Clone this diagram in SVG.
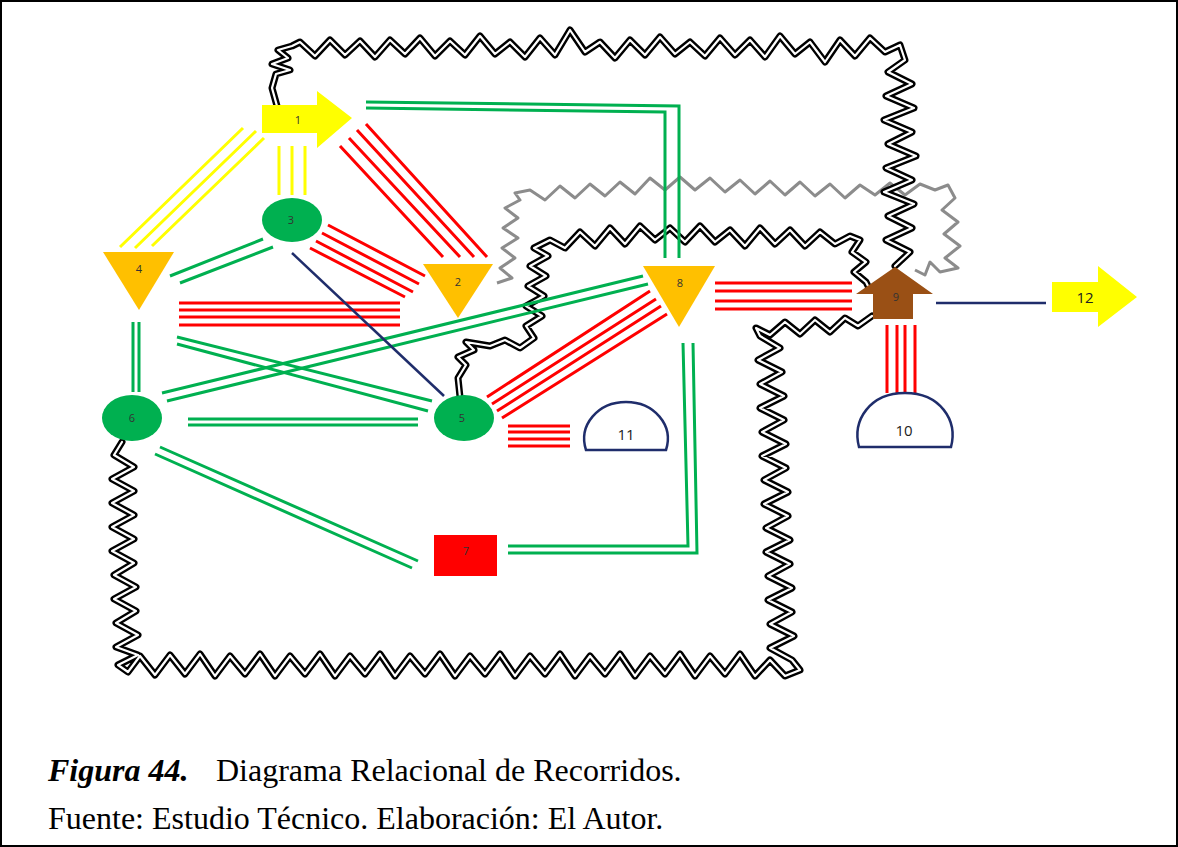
<svg xmlns="http://www.w3.org/2000/svg" width="1178" height="847" viewBox="0 0 1178 847">
<defs>
<style>
.y{stroke:#ffff00;stroke-width:3;fill:none}
.r{stroke:#ff0000;stroke-width:3;fill:none}
.g{stroke:#00b050;stroke-width:3;fill:none}
.n{stroke:#1f2d6b;stroke-width:2.5;fill:none}
.wk{stroke:#000;stroke-width:7;fill:none;stroke-linejoin:round;stroke-linecap:round}
.wi{stroke:#fff;stroke-width:2.2;fill:none;stroke-linejoin:round;stroke-linecap:round}
.gr{stroke:#8c8c8c;stroke-width:3;fill:none;stroke-linejoin:round}
.tri{fill:#ffc000}
.cir{fill:#00b050}
.lbl{font-family:"Open Sans","Liberation Sans",sans-serif;font-size:11px;fill:#333;text-anchor:middle}
.lbl2{font-family:"Open Sans","Liberation Sans",sans-serif;font-size:15px;fill:#222;text-anchor:middle}
.cap{font-family:"Liberation Serif","Times New Roman",serif;font-size:32px;fill:#000}
</style>
<path id="wTop" d="M277 106 L272 88 L276 74 L290 70 L272 64 L288 58 L278 50 L292 46 L300 42 L315 56 L330 40 L345 55 L360 41 L375 57 L390 40 L405 54 L420 38 L435 56 L450 41 L465 55 L480 36 L495 54 L510 42 L525 57 L540 38 L555 55 L570 30 L585 52 L600 42 L615 58 L630 40 L645 55 L660 37 L675 54 L690 42 L705 56 L720 38 L735 55 L750 40 L765 57 L780 36 L795 54 L810 42 L825 62 L840 40 L855 56 L870 38 L885 52 L900 45 L905 60 L888 72 L912 84 L886 96 L914 108 L884 120 L912 132 L888 144 L916 156 L886 168 L912 180 L884 192 L914 204 L888 216 L912 228 L886 240 L910 252 L895 266"/>
<path id="wMid" d="M460 397 L458 378 L466 365 L458 357 L474 350 L466 342 L490 346 L505 340 L520 348 L534 338 L526 326 L542 316 L526 306 L544 296 L528 286 L546 276 L530 266 L548 256 L534 248 L550 240 L565 248 L580 232 L595 246 L610 228 L625 244 L640 226 L655 240 L670 228 L685 242 L700 226 L715 242 L730 230 L745 246 L760 228 L775 244 L790 230 L805 246 L820 232 L835 244 L850 236 L860 240 L852 252 L866 262 L854 272 L866 282 L870 290"/>
<path id="wBot" d="M122 442 L114 455 L134 467 L112 479 L134 491 L112 503 L134 515 L112 527 L134 539 L112 551 L134 563 L114 575 L136 587 L114 599 L136 611 L116 623 L138 635 L116 647 L138 655 L118 665 L128 672 L140 656 L155 675 L170 655 L185 674 L200 654 L215 676 L230 656 L245 674 L260 654 L275 676 L290 656 L305 674 L320 654 L335 676 L350 656 L365 674 L380 654 L395 676 L410 656 L425 674 L440 654 L455 676 L470 656 L485 674 L500 654 L515 676 L530 656 L545 674 L560 654 L575 676 L590 656 L605 674 L620 654 L635 676 L650 656 L665 674 L680 654 L695 676 L710 656 L725 674 L740 654 L755 676 L770 660 L785 676 L800 670 L792 660 L770 648 L794 636 L770 624 L792 612 L768 600 L792 588 L768 576 L790 564 L766 552 L790 540 L766 528 L788 516 L764 504 L788 492 L764 480 L786 468 L762 456 L786 444 L762 432 L784 420 L760 408 L784 396 L760 384 L782 372 L758 360 L780 348 L760 336 L756 328 L770 335 L785 322 L800 334 L815 320 L830 332 L845 318 L858 326 L872 316"/>
</defs>
<rect x="1" y="1" width="1176" height="845" fill="#fff" stroke="#000" stroke-width="2"/>
<g id="connectors">
<path class="gr" d="M497 283 L512 278 L500 268 L515 258 L502 248 L518 238 L503 228 L518 218 L505 208 L520 200 L515 193 L530 190 L545 200 L560 186 L575 198 L590 184 L605 196 L620 182 L635 194 L650 178 L665 190 L680 177 L695 190 L710 178 L725 192 L740 180 L755 194 L770 181 L785 195 L800 182 L815 196 L830 184 L845 198 L860 185 L875 195 L890 183 L905 195 L920 184 L935 190 L948 185 L955 198 L942 210 L958 222 L944 234 L960 246 L945 258 L958 268 L940 272 L930 262 L925 275 L915 270"/>
<use href="#wTop" class="wk"/><use href="#wTop" class="wi"/>
<use href="#wMid" class="wk"/><use href="#wMid" class="wi"/>
<use href="#wBot" class="wk"/><use href="#wBot" class="wi"/>
<path class="y" d="M243 128 L120 247 M256 131 L135 248 M264 138 L152 246"/>
<path class="y" d="M279 146 V195 M292 146 V195 M305 146 V195"/>
<path class="r" d="M340 146 L443 257 M349 138 L460 257 M357 130 L474 257 M366 124 L487 257"/>
<path class="r" d="M328 225 L425 276 M322 233 L419 284 M316 241 L413 292 M310 248 L405 297"/>
<path class="r" d="M179 303 H400 M179 310 H400 M179 317 H400 M179 325 H400"/>
<path class="r" d="M487 397 L650 291 M492 404 L656 299 M497 411 L661 306 M502 418 L667 314"/>
<path class="r" d="M508 426 H570 M508 432 H570 M508 439 H570 M508 446 H570"/>
<path class="r" d="M715 283 H852 M715 291 H852 M715 301 H852 M715 309 H852"/>
<path class="r" d="M887 325 V393 M897 325 V393 M905 325 V393 M915 325 V393"/>
<path class="g" d="M366 102 L679 106 L679 258 M366 108 L665 112 L665 258"/>
<path class="g" d="M263 239 L170 276 M273 247 L180 283"/>
<path class="g" d="M133 322 V392 M139 322 V392"/>
<path class="g" d="M177 337 L432 401 M177 344 L428 411"/>
<path class="g" d="M162 393 L643 276 M167 401 L648 284"/>
<path class="g" d="M188 419 H418 M188 425 H418"/>
<path class="g" d="M160 447 L418 561 M155 454 L412 568"/>
<path class="g" d="M683 343 L688 546 L508 546 M693 343 L697 553 L508 553"/>
<path class="n" d="M292 253 L444 396"/>
<path class="n" d="M936 303 H1046"/>
</g>
<g id="node1"><polygon points="262,105 317,105 317,91 352,118 317,148 317,133 262,133" fill="#ffff00"/><text class="lbl" x="298" y="124">1</text></g>
<g id="node2"><polygon class="tri" points="423,264 493,264 458,318"/><text class="lbl" x="458" y="286">2</text></g>
<g id="node3"><ellipse class="cir" cx="292" cy="220" rx="30" ry="22"/><text class="lbl" x="291" y="224">3</text></g>
<g id="node4"><polygon class="tri" points="103,252 174,252 139,310"/><text class="lbl" x="139" y="273">4</text></g>
<g id="node5"><ellipse class="cir" cx="464" cy="418" rx="30" ry="23"/><text class="lbl" x="462" y="422">5</text></g>
<g id="node6"><ellipse class="cir" cx="132" cy="418" rx="30" ry="23"/><text class="lbl" x="132" y="422">6</text></g>
<g id="node7"><rect x="434" y="535" width="63" height="41" fill="#ff0000"/><text class="lbl" x="466" y="555">7</text></g>
<g id="node8"><polygon class="tri" points="643,266 715,266 679,327"/><text class="lbl" x="680" y="287">8</text></g>
<g id="node9"><polygon points="856,294 895,267 933,294 913,294 913,319 873,319 873,294" fill="#9a5015"/><text class="lbl" x="896" y="301">9</text></g>
<g id="node10"><path d="M859 447 C852 420 870 393 905 393 C940 393 958 420 951 447 Z" fill="#fff" stroke="#1f2d6b" stroke-width="2.5"/><text class="lbl2" x="904" y="436">10</text></g>
<g id="node11"><path d="M586 450 C578 425 598 402 626 402 C654 402 674 425 666 450 Z" fill="#fff" stroke="#1f2d6b" stroke-width="2.5"/><text class="lbl2" x="626" y="440">11</text></g>
<g id="node12"><polygon points="1052,282 1098,282 1098,266 1137,297 1098,327 1098,312 1052,312" fill="#ffff00"/><text class="lbl2" x="1085" y="303">12</text></g>
<g id="caption">
<text class="cap" x="48" y="781"><tspan font-weight="bold" font-style="italic">Figura 44.</tspan></text>
<text class="cap" x="216" y="781">Diagrama Relacional de Recorridos.</text>
<text class="cap" x="48" y="829">Fuente: Estudio Técnico. Elaboración: El Autor.</text>
</g>
</svg>
